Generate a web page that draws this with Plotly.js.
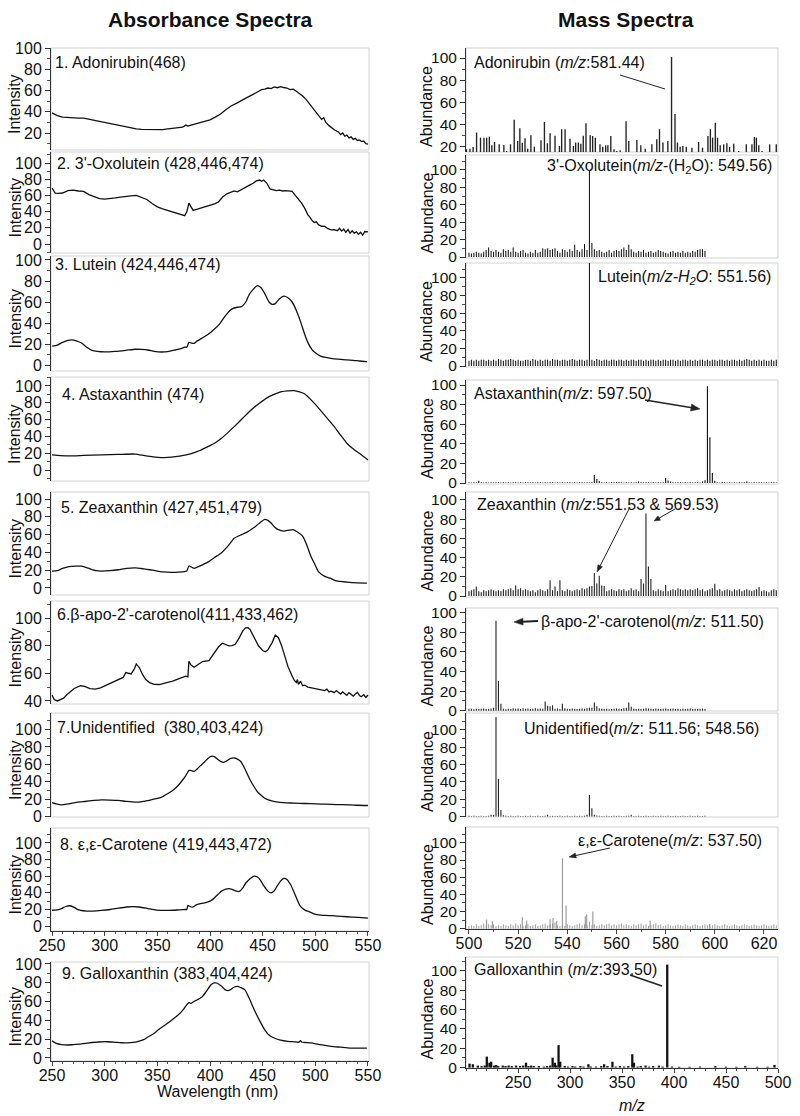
<!DOCTYPE html>
<html><head><meta charset="utf-8">
<script src="https://cdn.plot.ly/plotly-3.0.1.min.js"></script>
<style>html,body{margin:0;padding:0;background:#fff}#chart{width:800px;height:1116px}</style>
</head><body><div id="chart"></div>
<script>
// ---------------- Absorbance spectra (wavelength nm, intensity) ----------------
const ADO_NM=[250,255,260,265,270,275,280,285,290,295,300,305,310,315,320,325,330,335,340,345,350,355,360,365,370,374,377,379,382,386,390,395,400,405,410,415,420,425,430,435,440,443,446,449,452,455,458,461,464,467,470,473,476,479,482,485,488,491,494,497,500,503,506,508,510,513,516,519,522,524,526,528,530,532,534,536,538,540,542,544,546,548,550];
const ADO_INT=[39,36.5,35,34.5,34,34,34,33,32,31,29.5,28.5,27.5,26.5,25.5,24.5,24,23.5,23.3,23,22.8,23.2,24,24.5,25,25.5,27.5,26.5,27.5,28.5,30,31,32.5,35,38,42,45.5,48,51,53.5,56,57.5,59,61,61.5,62.5,62,63.5,62.8,63.8,63,62.5,61,61.5,59.5,57.5,55,52,48,44,40.5,37,33,34.5,30,27,24.5,22.5,21,18.5,20,17,18,15.5,16.5,14,15,13,13.5,12,12.5,10,9.5];

const OXO_NM=[250,253,256,260,265,270,275,280,285,290,295,300,305,310,315,320,325,330,335,340,345,350,355,360,365,370,373,376,378,380,382,384,388,392,396,400,405,408,412,416,420,423,426,430,434,438,441,444,447,449,451,454,457,460,463,466,469,472,475,478,481,484,487,490,493,495,497,499,501,503,506,509,512,515,518,521,523,525,527,529,531,533,535,537,539,541,543,545,547,550];
const OXO_INT=[69,63,62.5,63,66,66.5,65.5,65,61,58,56,55.5,56,57,58,59,59.5,60,57.5,55,50,46,43.5,41.5,40,38,37,35,40,50.5,46,41.5,43,44.5,46,48,50,52,58,62,64.5,65.5,64.5,67,70,73,75,78,79,77.5,79,75,68,67,66,66.5,65.5,66,65.5,65,60,55,50.5,44,36,33,29,26.7,27.5,24,22,21.8,19,17.5,17.7,16.5,19.5,16,18.5,14.5,18,13.5,16.5,13.5,15,12,14.5,11,15.5,15];

const LUT_NM=[250,255,260,265,269,273,278,283,288,293,300,310,320,329,335,341,347,354,360,367,372,376,378,380,382,385,388,392,398,404,409,414,418,421,426,430,434,437,441,445,448,452,456,459,462,466,470,474,478,482,486,490,493,497,500,505,511,518,524,530,536,542,549];
const LUT_INT=[18,19,21.5,23.5,24,23,21,17,14,13,12.5,13,14,15,14.8,14.3,13,12.4,12.8,14.3,15.5,17,17,21.5,21,20.6,23,25.4,29,34,39,46,51,53.5,55,55.6,60,66.7,72,75.6,74,68,60,57.8,58.5,63,65.5,64,60,52,41.3,29,21.3,14.5,11.7,8.5,7,5.8,5.4,4.8,4.5,3.8,3.2];

const AST_NM=[250,258,266,280,297,313,329,338,346,354,360,367,375,383,391,398,405,411,417,423,431,439,447,455,462,468,474,480,485,490,496,502,510,518,524,530,537,543,550];
const AST_INT=[17.9,17.2,16.8,17.3,17.9,18.5,19,17,15.5,14.7,15,15.9,17.5,19.9,23.5,27.8,32.5,37.7,44.5,51.6,61.5,71.5,79.5,86.5,90.5,93.3,94.3,94.5,93,90.5,83.5,75.4,63.5,51.6,41.5,31.8,24,18.7,12];

const ZEA_NM=[250,255,260,266,272,278,285,292,297,305,313,321,329,337,343,348,355,363,370,376,378,380,383,385,390,398,404,411,417,423,430,436,440,444,448,452,455,458,461,465,470,475,479,483,488,492,496,499,503,509,514,520,530,540,549];
const ZEA_INT=[19,19.5,22,24,24.5,24.5,22,19.5,19,19.5,20.5,22,22.5,21.5,20.5,19.5,18.2,17.6,17.8,18.5,19,24.7,23,22.1,24.5,29,34,39.7,47,55.8,60,63.3,66.5,70,74,77.2,76,73,68.9,65.5,64,65,65.5,63,58.4,48,35,28,18.3,13,11,8,6.6,5.8,5.5];

const APO_NM=[250,252,255,258,261,264,267,271,277,281,286,291,296,302,308,313,317.5,320,322,325,328,330,333,336,339,342.6,347,352,358,364.6,370,374,377,379,380,382,385,389,393,399,404,408,411.7,415,418,421,424,428,431,433.7,436,438,442,446,450,452.5,455,459,462,465,468,471,474,477.7,480,482,483,484,486,488,490,493,496.5,500,503,506,509,511,513,515,518,520,522,524,526,528,530,532,534,536,538,540,542,543.6,546,548,550];
const APO_INT=[44.3,41,40,41,42,44.5,46.7,49,51,50.5,49,48.5,49.5,51.5,53.3,55,57,60.5,60,59.5,63,66.8,64,59,55.5,53.3,52,51.9,53,54.3,56,57.3,58,57.5,68.7,66,64.4,66.5,68.5,69.2,75.1,79,81.8,81,79.9,80,81,86,90.5,92.9,93,91.7,86,79.9,76.5,75.6,77,82.2,87.7,85.8,80,72.7,65,58.5,55,53.3,55.5,52,54.3,51,51.4,50,49.5,49,48.5,48.3,47.5,48.5,46.5,47.1,46,47.5,46.2,45,46.5,45.5,44,46,44.8,43.5,45,46.2,44,43.1,44.5,42.5,44.3];

const UNI_NM=[250,254,259,265,272,281,290,297,305,313,320,329,337,344,349,354,360,366,370,374,377,380,383,385,388,391,395,398,401,404,407,410,413,416,419,423,426,429,432,435,438,442,445,448,452,457,463,470,480,490,501,510,520,533,540,550];
const UNI_INT=[16,14.5,13.5,14.5,16,17.3,18.5,19.2,19,18.5,17.5,16.5,17.5,19.2,20.5,22.3,26.5,31.5,36,42,47,53,52.5,52,55,58.5,63,66.8,69.2,68.8,66,63.5,62.3,64,66.5,67.3,66,63.5,57.5,50,42.3,34,28.5,25,21,18.5,17,16,15.5,15,14.6,14.2,13.8,13.5,13,12.7];

const CAR_NM=[250,255,259,263,267,271,274,277,283,289,297,305,313,321,327,333,341,349,357,365,371,377,378,379,381,384,387,390,395,399,402,405,408,411,415,418,421,425,428,431,434,438,442,445,448,451,455,458,461,464,467,470,473,477,481,485,488,491,494,498,503,510,516,525,535,547,550];
const CAR_INT=[19,19.5,21,23.5,24.4,22.5,20,18.8,18,18,18.8,19.9,21.5,22.9,23.3,22.9,21,19.1,18.8,19,19.5,19.9,20,24.7,23.5,22.9,25.5,26.6,27.8,29.3,31.5,34.9,38.5,42,44.3,45,44,42,41.6,45.5,51.8,57,60,59,55,48.5,42,39.8,42.5,48.5,54,57.4,56,48.8,37,25.5,21,18.5,17.3,15,13.5,12.8,12.4,11.5,10.8,9.8,9.6];

const GAL_NM=[250,254,259,265,270,278,285,294,302,310,316,322,327,332,337,341,346,351,356,360,365,370,375,378,380,382,385,388,392,396,401,404,407,411,414,417,420,423,426,429,433,437,442,447,452,456,461,467,474,480,484,486,487,490,496,503,509,515,524,533,541,549];
const GAL_INT=[18.4,15.5,14.2,13.8,14.2,15,16,17,17.3,16.7,16.2,16,16.5,17.7,19.5,22.3,25.5,30,34,37.2,41.5,46,52,56.7,59,58,60.3,62,64.5,70,78,79.8,79.5,76.2,73,71.6,73,75.5,76.2,75,72.7,64,51.4,40,30,24.5,21.3,19,17.7,17.2,16.8,18.4,17,16.5,16,14.5,13.5,12.4,11.5,10.6,10.5,10.6];

// ---------------- Mass spectra (m/z, abundance) ----------------
const MZ_GRID=[500,501,502,503,504,505,506,507,508,509,510,511,512,513,514,515,516,517,518,519,520,521,522,523,524,525,526,527,528,529,530,531,532,533,534,535,536,537,538,539,540,541,542,543,544,545,546,547,548,549,550,551,552,553,554,555,556,557,558,559,560,561,562,563,564,565,566,567,568,569,570,571,572,573,574,575,576,577,578,579,580,581,582,583,584,585,586,587,588,589,590,591,592,593,594,595,596,597,598,599,600,601,602,603,604,605,606,607,608,609,610,611,612,613,614,615,616,617,618,619,620,621,622,623,624,625,626];

const ADO_MZ=[499.0,500.4,501.7,503.1,504.7,506.1,507.2,508.3,509.3,510.4,512.3,514.2,515.3,516.9,518.4,519.8,520.7,521.7,522.8,523.9,525.2,526.6,529.3,530.7,531.9,533.0,535.0,536.8,537.7,539.1,541.1,542.5,543.4,544.5,545.5,546.5,547.6,549.3,550.3,551.4,553.3,554.4,555.6,556.5,557.7,559.0,560.1,561.5,563.9,565.0,568.3,569.9,571.7,574.4,576.4,577.5,578.9,580.9,582.4,583.8,584.8,585.9,587.0,588.4,590.7,593.4,595.0,597.2,598.2,599.1,600.2,601.1,602.2,603.6,604.9,606.0,607.7,609.7,612.8,615.1,616.1,616.9,617.9,619.2,622.3,625.0];
const ADO_AB=[18,18.5,20,33,28.4,28.4,28.4,29.3,21.5,24.5,22.4,21.8,16.4,22.4,44.4,25.4,36.9,23.9,27.8,18.5,30.5,20.3,26,42.6,23.3,32.4,30,20.9,36,36,27.5,20.9,24,24,23,30,41.4,30.5,29.9,28.4,22.4,20.3,21.5,21.5,29.9,17.9,16.4,17,43.2,25.4,26.3,21.5,18.5,22.4,26.9,36,24,25.4,100.9,49.6,24,20.3,20.9,20.3,19.4,24.5,19.4,29.9,36,28.4,41.7,28.4,21.5,22.4,23.3,20,23,16.4,22.4,22.4,29,28.4,21.5,16.4,22.4,22.4];

const OXO_AB=[5,4,5,6,5,4,6,8,11,7, 6,8,6,5,9,7,8,6,11,6, 5,7,8,5,4,6,5,8,5,6, 10,9,10,8,9,10,7,5,9,8, 6,9,7,14,8,6,9,15,8,100, 16,9,7,8,6,5,6,8,5,7, 8,7,9,11,8,14,9,6,5,7, 6,8,5,6,7,5,6,8,7,6, 5,4,6,7,5,6,5,7,5,6, 5,7,6,8,9,9,7];

const LUT_AB=[6,7,6,7,6,7,7,6,7,6, 7,6,8,7,6,7,7,8,7,6, 7,6,6,7,7,6,8,7,6,7, 6,7,7,6,8,7,7,6,7,7, 6,7,8,7,6,7,7,6,7,120, 7,6,8,7,6,7,7,6,7,7, 6,7,7,6,7,6,7,7,6,7, 7,6,7,6,7,7,6,7,6,7, 7,6,7,7,6,7,6,7,7,6, 7,6,7,6,7,7,6,7,6,7, 7,6,7,7,6,7,6,7,7,6, 7,6,7,8,7,6,7,6,7,6, 7,6,6,7,6,7,6];

const AST_AB=[.8,.6,.7,.6,2.4,.7,.6,.8,.6,.7, .6,.7,.8,.6,.7,.6,.7,.6,.8,.7, .6,.7,.6,.8,.7,.6,.7,.6,.7,.8, .6,.7,.6,.7,.8,.6,.7,.6,.7,.6, .7,.8,.6,.7,.6,.7,.8,.6,.7,.6, .9,8.2,4,2,.7,.6,.7,.6,.8,.7, 1,1.1,.8,.6,.7,.6,.7,.6,.8,1.5, .7,.6,.7,.8,.6,.7,.6,.7,.6,.8, 5,2.5,1.5,.7,.6,.7,.8,.6,.7,.6, .7,.6,.8,.7,.6,1.7,2.7,98.6,46.6,10.2, 2.4,.7,.6,1,.7,.6,.8,.6,.7,.6, .7,.6,.8,1.5,.7,.6,.7,.6,.8,.7, .6,.7,.6,.8,.7,.6];

const ZEA_AB=[5,6,7,10,5,4,6,5,6,7, 6,5,6,5,7,6,7,8,6,11, 7,8,6,7,6,5,6,4,6,7, 6,5,7,16.5,6,9.8,5,16.5,6,5, 7,6,5,6,7,6,8,7,8,9.8, 10.4,24,13,21,11,10.4,5,6,7,6, 5,7,6,7,5,6,8,6,7,5, 17.8,13,86,30.6,17.8,6,5,7,6,5, 11.4,5,6,7,6,8,7,6,7,6, 7,6,7,8,6,7,5,6,7,8, 12.8,6,7,5,6,7,6,5,7,6, 7,5,6,7,6,5,6,7,9.4,5, 6,5,4,6,7,6,5];

const APO_AB=[2,2,1.5,2,1.8,2,2.2,1.8,2,2.3, 3,91.7,30.3,7,2,1.5,2,1.8,2.5,2, 2.2,1.8,2.5,2,2.3,1.8,2,2.5,2,2.2, 2,9.3,5,4.5,5.5,2,2.3,1.8,7,2.5, 2,1.8,2.2,2,1.8,2,2.3,2,2.5,3, 3,8.3,4.5,2.5,2,1.8,2,1.5,1.8,2, 2.3,2,1.8,2.5,3,8.3,4,2,1.8,2, 1.8,2,2.5,2.2,2,1.8,2.3,2,1.8,2, 2.2,1.8,2,2.3,1.8,2,1.5,2,1.8,2, 2.2,1.8,2,1.8,2,2.2,1.8];

const UNI_AB=[.8,.7,.8,.6,.7,.8,.7,.6,1,2, 2,115,43.5,7.7,1.5,.8,.7,.8,.6,.7, .8,.7,.6,.8,.7,.8,.6,.7,.8,.7, .6,.8,2,.7,.8,.6,.7,.8,.7,.6, .8,.7,.6,.8,.7,.8,.6,1,2,25, 9.6,2,1.2,.8,.7,.6,.8,.7,.6,.8, .7,.8,.6,.7,.8,1,2,.7,.6,.8, .7,.6,.8,.7,.6,.8,.7,.6,.8,.7, .6,.8,.7,.6,.8,.7,.6,.8,.7,.6, .8,.7,.6,.8,.7,.6,.8];

const CAR_AB=[3,4,3,5,3,4,6,4,5,4, 5,3,4,3,5,4,3,5,4,6, 4,5,3,4,5,3,4,5,3,4, 5,6,4,5,6,7,4,3,4,3, 5,4,3,4,5,6,4,5,4,8, 4,5,3,4,5,4,5,6,4,5, 4,5,6,4,5,4,3,5,4,5, 6,4,5,3,4,5,6,4,5,3, 4,5,4,3,4,5,4,3,5,4, 3,4,5,4,3,4,5,4,3,4, 5,4,3,4,5,4,3,4,5,4, 3,4,5,4,3,4,5,4,3,4, 5,4,3,4,5,4,3];
const CAR_PEAK_MZ=[507.2,509.5,521.7,523.5,533.0,534.2,535.7,538.0,539.5,547.3,547.9,550.4,573.7,597.9];
const CAR_PEAK_AB=[10.5,8.5,13.2,9.3,11,12.4,9,82,26.7,14.3,16.3,20,9.3,5.4];

const GAL_MZ=[203.4,206.6,211.4,215,218,220,222.6,224.2,227,229,231,235.3,238,241,244,248.1,252,255,257.7,260,262.5,265,270,275,278,281,283.3,285.5,287,289,290.6,295,298,302.4,305,310,313,317.7,320,325,330,332.8,336,340.8,344,348,352,356,359.9,361.5,365,368,372.7,376,380,385.5,389,393.5,398,405,415,425,439.8,450,460,468.5,480,490,496.6];
const GAL_AB=[4,3.4,2,1.5,2,11.3,5,6,2,2.5,1.5,2,1.5,2,1.5,2,1.5,2,5,1.5,2,1.5,1.5,1,1.5,2,10.2,5,2,23.2,6,1.5,1,1.5,1,1.5,1,3.4,1,1,1.5,3.4,1.5,6,1,1.5,1,1.5,13.7,5,1,1.5,2,1,1.5,2,1,106.5,1,0.8,0.8,1,1.5,0.8,0.8,1.5,0.8,0.8,2.7];

const WL_TICKS=[250,300,350,400,450,500,550];
const MZ_TICKS=[500,520,540,560,580,600,620];
const MZ9_TICKS=[250,300,350,400,450,500];

// ---------------- layout helpers ----------------
const W=800,H=1116;
const FONT='Liberation Sans, Arial, Helvetica, sans-serif';
const fx=p=>p/W, fy=p=>1-p/H;
const dom=(t,b)=>[fy(b),fy(t)];

const left=[
 {x:ADO_NM,y:ADO_INT,t:48,b:150,yr:[4,100.3],shape:'linear',lab:'1. Adonirubin(468)',lx:53,ly:62},
 {x:OXO_NM,y:OXO_INT,t:152,b:253,yr:[-11,113.6],shape:'linear',lab:"2. 3'-Oxolutein (428,446,474)",lx:55,ly:164},
 {x:LUT_NM,y:LUT_INT,t:256,b:371,yr:[-5.7,103.8],shape:'spline',lab:'3. Lutein (424,446,474)',lx:53,ly:264},
 {x:AST_NM,y:AST_INT,t:377,b:481,yr:[-13.1,110.7],shape:'spline',lab:'4. Astaxanthin (474)',lx:60,ly:394},
 {x:ZEA_NM,y:ZEA_INT,t:492,b:595,yr:[-7.9,107.9],shape:'spline',lab:'5. Zeaxanthin (427,451,479)',lx:59,ly:507},
 {x:APO_NM,y:APO_INT,t:601,b:704,yr:[37.8,112.3],shape:'linear',lab:"6.β-apo-2'-carotenol(411,433,462)",lx:55,ly:614},
 {x:UNI_NM,y:UNI_INT,t:713,b:817,yr:[-0.5,119],shape:'spline',lab:'7.Unidentified  (380,403,424)',lx:55,ly:727},
 {x:CAR_NM,y:CAR_INT,t:828,b:931,yr:[-6,118],shape:'spline',lab:'8. ε,ε-Carotene (419,443,472)',lx:58,ly:844},
 {x:GAL_NM,y:GAL_INT,t:962,b:1061,yr:[-3.2,102.1],shape:'spline',lab:'9. Galloxanthin (383,404,424)',lx:60,ly:973}
];
const right=[
 {bars:[[ADO_MZ,ADO_AB,0.55,'#222']],t:48,b:152,yr:[15.5,109],lab:'Adonirubin (<i>m/z</i>:581.44)',lx:472,ly:63,anc:'left'},
 {bars:[[MZ_GRID.slice(0,OXO_AB.length),OXO_AB,0.42,'#111']],t:155,b:258,yr:[-1.1,117.2],lab:"3'-Oxolutein(<i>m/z</i>-(H<sub>2</sub>O): 549.56)",lx:774,ly:166,anc:'right'},
 {bars:[[MZ_GRID.slice(0,LUT_AB.length),LUT_AB,0.42,'#111']],t:263,b:367,yr:[-1.1,117],lab:'Lutein(<i>m/z-H<sub>2</sub>O</i>: 551.56)',lx:773,ly:278,anc:'right'},
 {bars:[[MZ_GRID.slice(0,AST_AB.length),AST_AB,0.45,'#111']],t:380,b:484,yr:[-1,105.1],lab:'Astaxanthin(<i>m/z</i>: 597.50)',lx:472,ly:393,anc:'left'},
 {bars:[[MZ_GRID.slice(0,ZEA_AB.length),ZEA_AB,0.45,'#222']],t:492,b:597,yr:[-1.04,108.3],lab:'Zeaxanthin (<i>m/z</i>:551.53 &amp; 569.53)',lx:475,ly:504,anc:'left'},
 {bars:[[MZ_GRID.slice(0,APO_AB.length),APO_AB,0.45,'#222']],t:608,b:711,yr:[-0.3,104.8],lab:"β-apo-2'-carotenol(<i>m/z</i>: 511.50)",lx:766,ly:621,anc:'right'},
 {bars:[[MZ_GRID.slice(0,UNI_AB.length),UNI_AB,0.45,'#222']],t:713,b:817,yr:[-0.5,119.5],lab:'Unidentified(<i>m/z</i>: 511.56; 548.56)',lx:522,ly:728,anc:'left'},
 {bars:[[MZ_GRID.slice(0,CAR_AB.length),CAR_AB,0.4,'#9a9a9a'],[CAR_PEAK_MZ,CAR_PEAK_AB,0.4,'#8a8a8a']],t:827,b:929,yr:[-0.5,118.6],lab:'ε,ε-Carotene(<i>m/z</i>: 537.50)',lx:764,ly:840,anc:'right'},
 {bars:[[GAL_MZ,GAL_AB,2.2,'#111']],t:957,b:1068,yr:[-0.5,114.4],lab:'Galloxanthin (<i>m/z</i>:393.50)',lx:472,ly:969,anc:'left'}
];

const data=[], shapes=[], ann=[];
const layout={width:W,height:H,margin:{l:0,r:0,t:0,b:0},paper_bgcolor:'#fff',plot_bgcolor:'#fff',
  showlegend:false,barmode:'overlay',font:{family:FONT,size:16,color:'#111'}};

function yax(yr,t,b,fs){
  return {domain:dom(t,b),range:yr,showline:true,linecolor:'#333',linewidth:1,ticks:'outside',ticklen:5,tickwidth:1,
    tickcolor:'#333',dtick:20,tick0:0,zeroline:false,showgrid:false,tickfont:{family:FONT,size:fs,color:'#111'},
    minor:{ticks:'outside',ticklen:3,dtick:10,tickcolor:'#555'},fixedrange:true};
}
function frame(n){
  const xs=n===1?'x':'x'+n, ys=n===1?'y':'y'+n;
  shapes.push({type:'rect',xref:xs+' domain',yref:ys+' domain',x0:0,x1:1,y0:0,y1:1,line:{color:'#d2d2d2',width:1},layer:'below'});
}
function xax(showX,range,tickvals,xs,domX){
  const a={domain:domX,range:range,anchor:'y'+xs,showgrid:false,zeroline:false,
    showline:showX,linecolor:'#333',ticks:showX?'outside':'',ticklen:4,showticklabels:showX,tickvals:tickvals,
    tickfont:{family:FONT,size:16,color:'#111'},fixedrange:true};
  if(showX){a.minor={ticks:'outside',ticklen:2,dtick:10,tickcolor:'#555'};a.ticklabelstandoff=-4;}
  return a;
}

left.forEach((p,i)=>{
  const n=i+1, xs=n===1?'':String(n);
  data.push({type:'scatter',mode:'lines',x:p.x,y:p.y,xaxis:'x'+xs,yaxis:'y'+xs,
    line:{color:'#111',width:1.3,shape:p.shape,smoothing:0.6},hoverinfo:'skip'});
  const showX=(i>=7);
  layout['xaxis'+xs]=xax(showX,[249,551],WL_TICKS,xs,[fx(51),fx(369)]);
  layout['yaxis'+xs]=Object.assign(yax(p.yr,p.t,p.b,16),{anchor:'x'+xs});
  frame(n);
  ann.push({xref:'paper',yref:'paper',x:fx(p.lx),y:fy(p.ly),xanchor:'left',yanchor:'middle',text:p.lab,showarrow:false,
    font:{family:FONT,size:16,color:'#111'}});
  ann.push({xref:'paper',yref:'paper',x:fx(15),y:fy((p.t+p.b)/2+5),xanchor:'center',yanchor:'middle',text:'Intensity',
    textangle:-90,showarrow:false,font:{family:FONT,size:16,color:'#111'}});
});

right.forEach((p,i)=>{
  const n=10+i, xs=String(n);
  p.bars.forEach(b=>{
    data.push({type:'bar',x:b[0],y:b[1],width:b[2],xaxis:'x'+xs,yaxis:'y'+xs,marker:{color:b[3],line:{width:0}},hoverinfo:'skip'});
  });
  const last=(i===8), showX=(i>=7);
  layout['xaxis'+xs]=xax(showX,last?[200,500]:[498.8,625.7],last?MZ9_TICKS:MZ_TICKS,xs,[fx(466),fx(778)]);
  layout['yaxis'+xs]=Object.assign(yax(p.yr,p.t,p.b,15.5),{anchor:'x'+xs});
  frame(n);
  ann.push({xref:'paper',yref:'paper',x:fx(p.lx),y:fy(p.ly),xanchor:p.anc,yanchor:'middle',text:p.lab,showarrow:false,
    font:{family:FONT,size:16,color:'#111'}});
  ann.push({xref:'paper',yref:'paper',x:fx(427),y:fy((p.t+p.b)/2+6),xanchor:'center',yanchor:'middle',text:'Abundance',
    textangle:-90,showarrow:false,font:{family:FONT,size:16,color:'#111'}});
});

// pointer lines / arrows drawn as shapes (positions in page pixels)
function pline(x0,y0,x1,y1,w){shapes.push({type:'line',xref:'paper',yref:'paper',x0:fx(x0),y0:fy(y0),x1:fx(x1),y1:fy(y1),line:{color:'#222',width:w}});}
function parrow(x0,y0,x1,y1,w,hl,hw){
  const dx=x1-x0, dy=y1-y0, L=Math.hypot(dx,dy), ux=dx/L, uy=dy/L;
  const bx=x1-ux*hl, by=y1-uy*hl;
  pline(x0,y0,bx+ux*1,by+uy*1,w);
  const p1=[bx-uy*hw,by+ux*hw], p2=[bx+uy*hw,by-ux*hw];
  shapes.push({type:'path',xref:'paper',yref:'paper',
    path:`M ${fx(x1)} ${fy(y1)} L ${fx(p1[0])} ${fy(p1[1])} L ${fx(p2[0])} ${fy(p2[1])} Z`,
    fillcolor:'#222',line:{color:'#222',width:0.5}});
}
pline(620,75,665,89,1);
parrow(645,400,700,409,1.5,9,3.5);
parrow(630,507,597,572,1,7,2.5);
parrow(675,509,654,521,1,6,2.5);
parrow(538,621,514,622,2,9,3.5);
parrow(610,848,569,857,1,7,2.5);
pline(630,975,662,986,1.5);

// titles
ann.push({xref:'paper',yref:'paper',x:fx(210),y:fy(20),xanchor:'center',yanchor:'middle',text:'<b>Absorbance Spectra</b>',showarrow:false,font:{family:FONT,size:21,color:'#111'}});
ann.push({xref:'paper',yref:'paper',x:fx(626),y:fy(20),xanchor:'center',yanchor:'middle',text:'<b>Mass Spectra</b>',showarrow:false,font:{family:FONT,size:21,color:'#111'}});
ann.push({xref:'paper',yref:'paper',x:fx(217),y:fy(1091),xanchor:'center',yanchor:'middle',text:'Wavelength (nm)',showarrow:false,font:{family:FONT,size:16,color:'#111'}});
ann.push({xref:'paper',yref:'paper',x:fx(632),y:fy(1105),xanchor:'center',yanchor:'middle',text:'<i>m/z</i>',showarrow:false,font:{family:FONT,size:16,color:'#111'}});

layout.shapes=shapes;
layout.annotations=ann;
Plotly.newPlot('chart',data,layout,{staticPlot:true,displayModeBar:false});
</script>
</body></html>
